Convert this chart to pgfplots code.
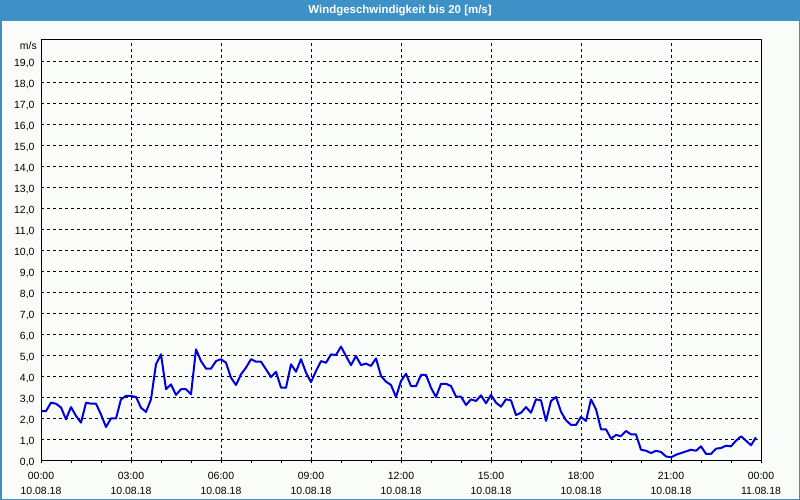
\documentclass[border=0pt]{standalone}
\usepackage{pgfplots}
\pgfplotsset{compat=1.18}
\usepackage{fontspec}
\setmainfont{Liberation Sans}
\definecolor{titlebar}{HTML}{3D91C7}
\definecolor{linecol}{HTML}{0000DD}
\definecolor{bg}{HTML}{FAFCFA}
\pgfplotstableread{
h v
0.000 2.33
0.167 2.33
0.333 2.73
0.500 2.68
0.667 2.50
0.833 1.94
1.000 2.52
1.167 2.10
1.333 1.78
1.500 2.73
1.667 2.68
1.833 2.68
2.000 2.17
2.167 1.57
2.333 1.98
2.500 1.98
2.667 2.89
2.833 3.05
3.000 3.05
3.167 3.00
3.333 2.49
3.500 2.29
3.667 2.89
3.833 4.56
4.000 5.03
4.167 3.37
4.333 3.60
4.500 3.10
4.667 3.37
4.833 3.37
5.000 3.13
5.167 5.27
5.333 4.71
5.500 4.35
5.667 4.35
5.833 4.71
6.000 4.80
6.167 4.63
6.333 3.92
6.500 3.57
6.667 4.08
6.833 4.40
7.000 4.80
7.167 4.68
7.333 4.68
7.500 4.32
7.667 3.95
7.833 4.20
8.000 3.45
8.167 3.44
8.333 4.56
8.500 4.20
8.667 4.80
8.833 4.16
9.000 3.71
9.167 4.24
9.333 4.71
9.500 4.63
9.667 5.03
9.833 5.00
10.000 5.40
10.167 4.95
10.333 4.52
10.500 4.95
10.667 4.52
10.833 4.59
11.000 4.48
11.167 4.84
11.333 4.00
11.500 3.73
11.667 3.57
11.833 3.00
12.000 3.76
12.167 4.11
12.333 3.52
12.500 3.52
12.667 4.05
12.833 4.05
13.000 3.44
13.167 3.00
13.333 3.63
13.500 3.63
13.667 3.52
13.833 3.02
14.000 3.02
14.167 2.62
14.333 2.89
14.500 2.81
14.667 3.08
14.833 2.70
15.000 3.10
15.167 2.73
15.333 2.54
15.500 2.89
15.667 2.84
15.833 2.14
16.000 2.25
16.167 2.52
16.333 2.25
16.500 2.89
16.667 2.84
16.833 1.86
17.000 2.81
17.167 3.00
17.333 2.30
17.500 1.89
17.667 1.67
17.833 1.67
18.000 2.05
18.167 1.86
18.333 2.89
18.500 2.41
18.667 1.46
18.833 1.46
19.000 1.02
19.167 1.19
19.333 1.14
19.500 1.38
19.667 1.22
19.833 1.22
20.000 0.49
20.167 0.44
20.333 0.33
20.500 0.44
20.667 0.38
20.833 0.17
21.000 0.13
21.167 0.25
21.333 0.33
21.500 0.41
21.667 0.49
21.833 0.44
22.000 0.65
22.167 0.29
22.333 0.29
22.500 0.54
22.667 0.57
22.833 0.68
23.000 0.65
23.167 0.92
23.333 1.13
23.500 0.92
23.667 0.70
23.833 1.08
}\wind
\begin{document}
\begin{tikzpicture}
\useasboundingbox (0bp,0bp) rectangle (800bp,500bp);
\fill[bg] (0bp,0bp) rectangle (800bp,500bp);
\fill[titlebar] (0bp,479bp) rectangle (800bp,500bp);
\draw[titlebar, line width=1.5bp] (0.75bp,0.75bp) rectangle (799.25bp,499.25bp);
\node[white, font=\bfseries\fontsize{11.5}{13}\selectfont] at (400bp,489.5bp) {Windgeschwindigkeit bis 20 [m/s]};
\node[anchor=east, font=\fontsize{10.5}{12}\selectfont, inner sep=0pt] at (37bp,454bp) {m/s};
\begin{axis}[
  at={(41bp,40bp)}, anchor=south west,
  width=720bp, height=420bp, scale only axis,
  xmin=0, xmax=24, ymin=0, ymax=20,
  axis line style={black, line width=1bp},
  xtick={0,3,...,24},
  xticklabels={00:00\\10.08.18,03:00\\10.08.18,06:00\\10.08.18,09:00\\10.08.18,12:00\\10.08.18,15:00\\10.08.18,18:00\\10.08.18,21:00\\10.08.18,00:00\\11.08.18},
  minor x tick num=2,
  ytick={0,1,...,19},
  xtick pos=bottom, ytick pos=left,
  tick align=outside,
  x tick style={black, line width=0.8bp},
  major tick length=3bp, minor tick length=3bp,
  y tick style={draw=none},
  xticklabel style={align=center, font=\fontsize{10.5}{15}\selectfont, yshift=-6bp},
  yticklabel style={font=\fontsize{10.5}{12}\selectfont, yshift=-2.5bp},
  /pgf/number format/.cd, fixed, fixed zerofill, precision=1, use comma, assume math mode=true,
  /pgfplots/.cd,
  grid=major,
  major grid style={black, line width=0.8bp, dash pattern=on 3bp off 3bp},
]
\addplot[linecol, line width=2bp, mark=none, line join=round] table[x=h, y=v] {\wind};
\end{axis}
\end{tikzpicture}
\end{document}
